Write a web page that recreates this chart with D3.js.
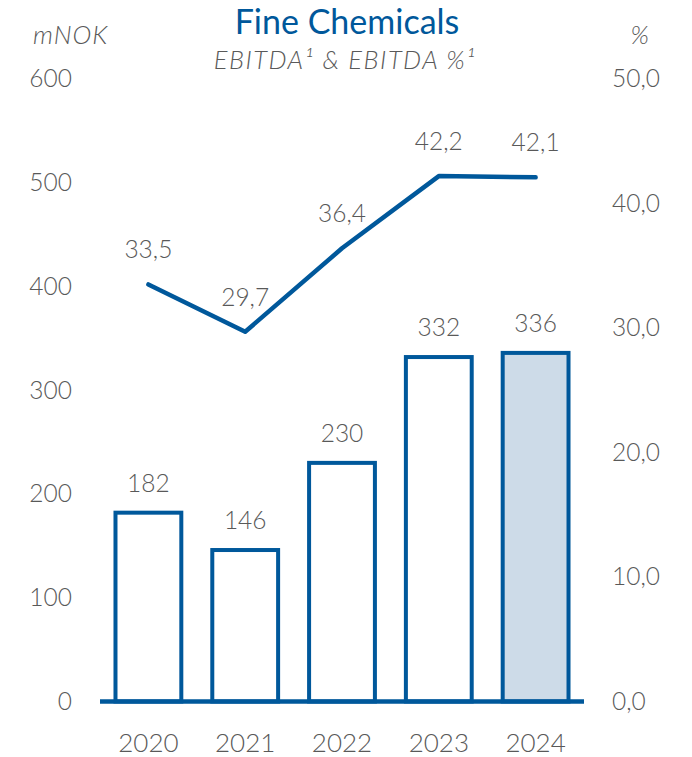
<!DOCTYPE html>
<html>
<head>
<meta charset="utf-8">
<script src="https://cdn.jsdelivr.net/npm/d3@7/dist/d3.min.js"></script>
<style>
  html, body { margin: 0; padding: 0; background: #ffffff; }
  svg { display: block; }
  text { font-family: Lato, "Open Sans", sans-serif; }
</style>
</head>
<body>
<svg id="chart" width="692" height="757"></svg>
<script>
const years = ["2020", "2021", "2022", "2023", "2024"];
const ebitda = [182, 146, 230, 332, 336];
const ebitdaPct = [33.5, 29.7, 36.4, 42.2, 42.1];
const leftTicks = [0, 100, 200, 300, 400, 500, 600];
const rightTicks = [0, 10, 20, 30, 40, 50];
const highlightYear = "2024";

const BLUE = "#00589b";
const GRAY = "#595959";
const FILL_HL = "#cddbe8";

const svg = d3.select("#chart");

const x = d3.scaleBand().domain(years).range([100, 584]).paddingInner(0.32).paddingOuter(0.16);
const yL = d3.scaleLinear().domain([0, 600]).range([701.5, 79]);
const yR = d3.scaleLinear().domain([0, 50]).range([701.5, 79]);

const fmtPct = v => d3.format(".1f")(v).replace(".", ",");

// Title
svg.append("text").attr("x", 347).attr("y", 34).attr("text-anchor", "middle")
  .attr("fill", BLUE).style("font-size", "34px").text("Fine Chemicals");
svg.append("text").attr("x", 345).attr("y", 69).attr("text-anchor", "middle")
  .attr("fill", GRAY).style("font-size", "25.5px").style("font-style", "italic").style("font-weight", 300)
  .style("letter-spacing", "1.5px")
  .text("EBITDA\u00B9 & EBITDA %\u00B9");
svg.append("text").attr("x", 33).attr("y", 44).attr("fill", GRAY)
  .style("font-size", "25.5px").style("font-style", "italic").style("font-weight", 300)
  .style("letter-spacing", "1px").text("mNOK");
svg.append("text").attr("x", 649).attr("y", 44).attr("text-anchor", "end").attr("fill", GRAY)
  .style("font-size", "25.5px").style("font-style", "italic").style("font-weight", 300).text("%");

// Left axis
const gL = svg.append("g").attr("transform", "translate(72,0)")
  .call(d3.axisLeft(yL).tickValues(leftTicks).tickSize(0).tickPadding(0).tickFormat(d3.format("d")));
gL.select(".domain").remove();
gL.selectAll("text").attr("fill", GRAY).style("font-size", "24.5px").style("font-weight", 300)
  .style("font-family", "Lato, sans-serif");

// Right axis
const gR = svg.append("g").attr("transform", "translate(612,0)")
  .call(d3.axisRight(yR).tickValues(rightTicks).tickSize(0).tickPadding(0).tickFormat(fmtPct));
gR.select(".domain").remove();
gR.selectAll("text").attr("fill", GRAY).style("font-size", "24.5px").style("font-weight", 300)
  .style("font-family", "Lato, sans-serif");

// Bars
const data = years.map((y, i) => ({ year: y, v: ebitda[i], p: ebitdaPct[i] }));
svg.append("g").selectAll("rect").data(data).join("rect")
  .attr("x", d => x(d.year))
  .attr("y", d => yL(d.v))
  .attr("width", x.bandwidth())
  .attr("height", d => yL(0) - yL(d.v))
  .attr("fill", d => d.year === highlightYear ? FILL_HL : "#ffffff")
  .attr("stroke", BLUE).attr("stroke-width", 4);

// Baseline (x axis)
const gX = svg.append("g").attr("transform", `translate(0,${yL(0)})`)
  .call(d3.axisBottom(x).tickSize(0).tickPadding(0));
gX.select(".domain").attr("stroke", BLUE).attr("stroke-width", 4.5)
  .attr("d", "M100,0H584");
gX.selectAll(".tick text").attr("dy", null).attr("y", 50).attr("fill", GRAY)
  .style("font-size", "26px").style("font-weight", 300).style("font-family", "Lato, sans-serif");

// Bar value labels
svg.append("g").selectAll("text").data(data).join("text")
  .attr("x", d => x(d.year) + x.bandwidth() / 2)
  .attr("y", d => yL(d.v) - 21)
  .attr("text-anchor", "middle").attr("fill", GRAY)
  .style("font-size", "24.5px").style("font-weight", 300)
  .text(d => d.v);

// Line
const line = d3.line().x(d => x(d.year) + x.bandwidth() / 2).y(d => yR(d.p));
svg.append("path").datum(data).attr("d", line)
  .attr("fill", "none").attr("stroke", BLUE).attr("stroke-width", 4.5)
  .attr("stroke-linecap", "round").attr("stroke-linejoin", "round");

// Line value labels
svg.append("g").selectAll("text").data(data).join("text")
  .attr("x", d => x(d.year) + x.bandwidth() / 2)
  .attr("y", d => yR(d.p) - 26)
  .attr("text-anchor", "middle").attr("fill", GRAY)
  .style("font-size", "24.5px").style("font-weight", 300)
  .text(d => fmtPct(d.p));
</script>
</body>
</html>
